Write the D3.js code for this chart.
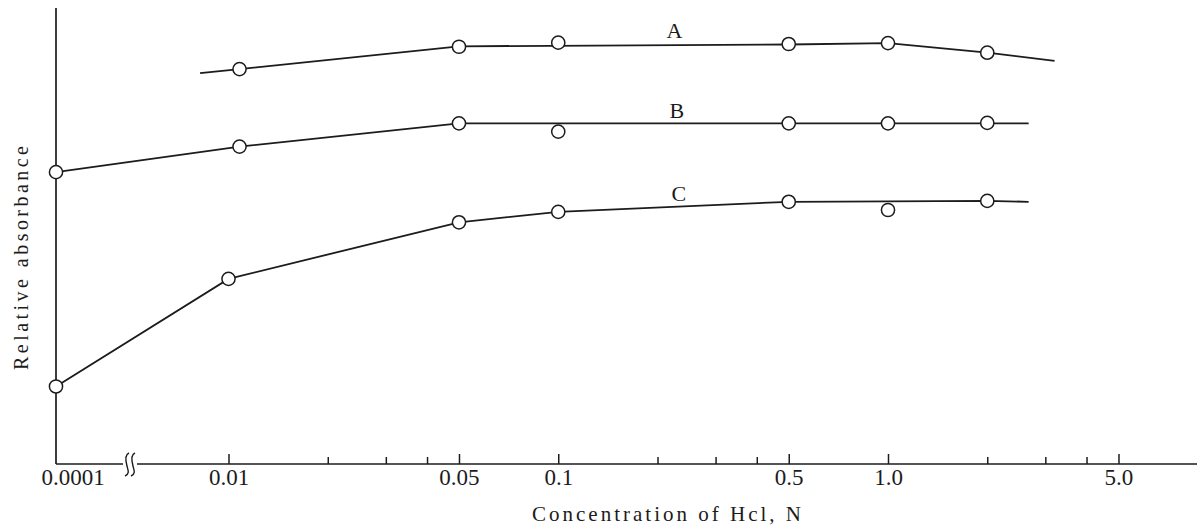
<!DOCTYPE html>
<html>
<head>
<meta charset="utf-8">
<script src="https://cdn.jsdelivr.net/npm/d3@7"></script>
<style>
  html, body { margin: 0; padding: 0; background: #fff; }
  svg { display: block; }
  text { font-family: "Liberation Serif", "Times New Roman", serif; fill: #1c1c1c; }
</style>
</head>
<body>
<svg id="chart" width="1201" height="529"></svg>
<script>
// HCl concentration (N) and relative absorbance for the three curves
const concA = [0.0108, 0.05, 0.1, 0.5, 1.0, 2.0];
const absA  = [0.866, 0.915, 0.924, 0.921, 0.923, 0.902];
const lineConcA = [0.0082, 0.0108, 0.05, 0.5, 1.0, 2.0, 3.2];
const lineAbsA  = [0.857, 0.866, 0.916, 0.920, 0.923, 0.902, 0.884];

const concB = [0.0001, 0.0108, 0.05, 0.1, 0.5, 1.0, 2.0];
const absB  = [0.640, 0.696, 0.747, 0.729, 0.747, 0.747, 0.748];
const lineConcB = [0.0001, 0.0108, 0.05, 2.67];
const lineAbsB  = [0.640, 0.696, 0.747, 0.747];

const concC = [0.0001, 0.01, 0.05, 0.1, 0.5, 1.0, 2.0];
const absC  = [0.170, 0.406, 0.530, 0.553, 0.575, 0.557, 0.577];
const lineConcC = [0.0001, 0.01, 0.05, 0.1, 0.5, 2.0, 2.67];
const lineAbsC  = [0.170, 0.406, 0.530, 0.553, 0.575, 0.577, 0.575];

const seriesNames = ["A", "B", "C"];
const labelConc = [0.225, 0.229, 0.232];
const labelAbs  = [0.934, 0.758, 0.576];

// x axis ticks
const tickValues = [0.01, 0.02, 0.03, 0.04, 0.05, 0.1, 0.2, 0.3, 0.4, 0.5, 1, 2, 3, 4, 5];
const labeledTicks = [0.01, 0.05, 0.1, 0.5, 1, 5];
const tickLabels = ["0.01", "0.05", "0.1", "0.5", "1.0", "5.0"];
const originValue = 0.0001;
const originLabel = "0.0001";

const svg = d3.select("#chart");
const ink = "#1c1c1c";

const axisX0 = 56, axisY0 = 464, axisTop = 8, axisRight = 1197;
const breakLeft = 123, breakRight = 137;

// log scale for the main part of the axis; 0.0001 sits on the y axis past the break
const xLog = d3.scaleLog().domain([0.01, 1]).range([228.5, 888]);
const xLow = d3.scaleLog().domain([0.0001, 0.001]).range([axisX0, axisX0 + 40]);
const x = v => (v < 0.001 ? xLow(v) : xLog(v));
const y = d3.scaleLinear().domain([0, 1]).range([axisY0, axisTop]);

// axes lines
const axisG = svg.append("g").attr("stroke", ink).attr("stroke-width", 1.7).attr("fill", "none");
axisG.append("line").attr("x1", axisX0).attr("y1", axisTop).attr("x2", axisX0).attr("y2", axisY0);
axisG.append("line").attr("x1", axisX0).attr("y1", axisY0).attr("x2", breakLeft).attr("y2", axisY0);
axisG.append("line").attr("x1", breakRight).attr("y1", axisY0).attr("x2", axisRight).attr("y2", axisY0);

// break mark: two small s-curves
[127, 133].forEach(bx => {
  axisG.append("path")
    .attr("stroke-width", 1.4)
    .attr("d", `M${bx + 2},${axisY0 - 11} C${bx - 3},${axisY0 - 9} ${bx - 1},${axisY0 - 2} ${bx},${axisY0 + 2} C${bx + 1},${axisY0 + 6} ${bx + 3},${axisY0 + 10} ${bx - 2},${axisY0 + 12}`);
});

// ticks and labels through d3's axis generator
const xAxis = d3.axisBottom(xLog)
  .tickValues(tickValues)
  .tickSize(-7)
  .tickPadding(5)
  .tickFormat(d => {
    const i = labeledTicks.findIndex(t => Math.abs(t - d) < 1e-9);
    return i >= 0 ? tickLabels[i] : "";
  });

const gx = svg.append("g").attr("transform", `translate(0,${axisY0})`).call(xAxis);
gx.select(".domain").remove();
gx.selectAll(".tick line")
  .attr("stroke", ink).attr("stroke-width", 1.5)
  .attr("y2", d => labeledTicks.some(t => Math.abs(t - d) < 1e-9) ? -10 : -7);
gx.selectAll(".tick text")
  .attr("fill", ink)
  .style("font-family", '"Liberation Serif", "Times New Roman", serif')
  .style("font-size", "23px");

svg.append("text")
  .attr("x", x(originValue) + 17)
  .attr("y", axisY0 + 5)
  .attr("dy", "0.71em")
  .attr("text-anchor", "middle")
  .style("font-size", "23px")
  .text(originLabel);

// axis titles
svg.append("text")
  .attr("x", 532).attr("y", 521)
  .attr("textLength", 269).attr("lengthAdjust", "spacing")
  .style("font-size", "21px")
  .text("Concentration of Hcl, N");

svg.append("text")
  .attr("transform", "translate(28,370) rotate(-90)")
  .attr("textLength", 224).attr("lengthAdjust", "spacing")
  .style("font-size", "20px")
  .text("Relative absorbance");

// curves
const line = d3.line().x(d => x(d[0])).y(d => y(d[1]));
const lines = [
  d3.zip(lineConcA, lineAbsA),
  d3.zip(lineConcB, lineAbsB),
  d3.zip(lineConcC, lineAbsC)
];
const points = [
  d3.zip(concA, absA),
  d3.zip(concB, absB),
  d3.zip(concC, absC)
];

svg.append("g").selectAll("path").data(lines).join("path")
  .attr("d", line)
  .attr("fill", "none")
  .attr("stroke", ink)
  .attr("stroke-width", 1.8);

svg.append("g").selectAll("circle").data(points.flat()).join("circle")
  .attr("cx", d => x(d[0]))
  .attr("cy", d => y(d[1]))
  .attr("r", 6.6)
  .attr("fill", "#fff")
  .attr("stroke", ink)
  .attr("stroke-width", 1.5);

svg.append("g").selectAll("text").data(seriesNames).join("text")
  .attr("x", (d, i) => x(labelConc[i]))
  .attr("y", (d, i) => y(labelAbs[i]))
  .attr("text-anchor", "middle")
  .style("font-size", "22px")
  .text(d => d);
</script>
</body>
</html>
